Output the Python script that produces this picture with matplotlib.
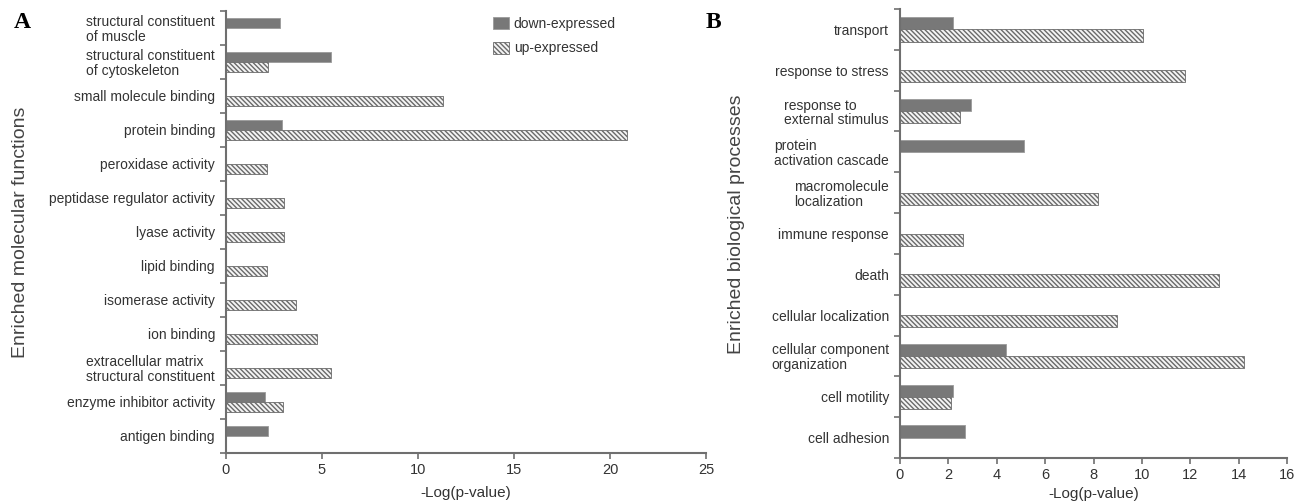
import numpy as np
import matplotlib
matplotlib.use('Agg')
import matplotlib.pyplot as plt
from matplotlib.patches import Patch

plt.rcParams['font.family'] = ['Liberation Sans', 'DejaVu Sans']
plt.rcParams['hatch.color'] = '#555555'
plt.rcParams['hatch.linewidth'] = 1.0

# Panel A: enriched molecular functions
mf_labels = ['structural constituent\nof muscle', 'structural constituent\nof cytoskeleton',
             'small molecule binding', 'protein binding', 'peroxidase activity',
             'peptidase regulator activity', 'lyase activity', 'lipid binding',
             'isomerase activity', 'ion binding', 'extracellular matrix\nstructural constituent',
             'enzyme inhibitor activity', 'antigen binding']
mf_down = [2.83, 5.48, 0, 2.93, 0, 0, 0, 0, 0, 0, 0, 2.05, 2.2]
mf_up = [0, 2.17, 11.28, 20.9, 2.12, 3.0, 3.04, 2.15, 3.65, 4.76, 5.49, 2.98, 0]

# Panel B: enriched biological processes
bp_labels = ['transport', 'response to stress', 'response to\nexternal stimulus',
             'protein\nactivation cascade', 'macromolecule\nlocalization', 'immune response',
             'death', 'cellular localization', 'cellular component\norganization',
             'cell motility', 'cell adhesion']
bp_down = [2.18, 0, 2.93, 5.12, 0, 0, 0, 0, 4.38, 2.19, 2.67]
bp_up = [10.05, 11.78, 2.49, 0, 8.18, 2.62, 13.2, 8.97, 14.24, 2.1, 0]

down_col = '#787878'
hatch_pat = '\\\\\\\\\\\\\\'
spine_col = '#6f6f6f'
text_col = '#333333'
H = 0.3

W, Hpx = 1311, 503
fig = plt.figure(figsize=(W / 100, Hpx / 100), dpi=100)
axA = fig.add_axes([226 / W, 50 / Hpx, 480 / W, 442 / Hpx])
axB = fig.add_axes([900 / W, 45 / Hpx, 387 / W, 449 / Hpx])


def draw(ax, labels, down, up, xmax, step, ylab, ylab_pos, xpad):
    n = len(labels)
    y = np.arange(n)
    down = np.array(down, dtype=float)
    up = np.array(up, dtype=float)
    md = down > 0
    mu = up > 0
    ax.barh(y[md] - H / 2, down[md], height=H, color=down_col,
            edgecolor='#9a9a9a', linewidth=0.6)
    ax.barh(y[mu] + H / 2, up[mu], height=H, color='#f4f4f4',
            edgecolor='#6a6a6a', linewidth=0.6, hatch=hatch_pat)
    ax.set_ylim(n - 0.5, -0.5)
    ax.set_xlim(0, xmax)
    ax.set_xticks(np.arange(0, xmax + 0.1, step))
    ax.set_yticks(y)
    ax.set_yticklabels(labels, multialignment='left', linespacing=1.05)
    ax.set_yticks(np.arange(n + 1) - 0.5, minor=True)
    ax.tick_params(axis='y', which='major', length=0, pad=8,
                   labelsize=10, labelcolor=text_col)
    ax.tick_params(axis='y', which='minor', length=4, width=1.2, color=spine_col)
    ax.tick_params(axis='x', length=4, width=1.2, color=spine_col,
                   labelsize=10.5, labelcolor=text_col, pad=3)
    for s in ['top', 'right']:
        ax.spines[s].set_visible(False)
    for s in ['left', 'bottom']:
        ax.spines[s].set_color(spine_col)
        ax.spines[s].set_linewidth(1.5)
    ax.set_xlabel('-Log(p-value)', fontsize=11, color=text_col, labelpad=xpad)
    ax.set_ylabel(ylab, fontsize=14, color='#444444')
    ax.yaxis.set_label_coords(ylab_pos[0], ylab_pos[1])


draw(axA, mf_labels, mf_down, mf_up, 25, 5, 'Enriched molecular functions', (-0.41, 0.5), 7)
draw(axB, bp_labels, bp_down, bp_up, 16, 2, 'Enriched biological processes', (-0.40, 0.52), 3.5)

handles = [Patch(facecolor=down_col, edgecolor='#9a9a9a', linewidth=0.6),
           Patch(facecolor='#f4f4f4', edgecolor='#6a6a6a', linewidth=0.6, hatch=hatch_pat)]
axA.legend(handles, ['down-expressed', 'up-expressed'], loc='upper left',
           bbox_to_anchor=(493 / W, 1 - 17 / Hpx), bbox_transform=fig.transFigure,
           frameon=False, fontsize=10, handlelength=1.15, handleheight=0.95,
           handletextpad=0.35, labelspacing=0.75, borderpad=0, borderaxespad=0,
           labelcolor=text_col)

fig.text(14 / W, 1 - 22 / Hpx, 'A', fontsize=17, fontweight='bold',
         family='Liberation Serif', va='center', ha='left')
fig.text(706 / W, 1 - 22 / Hpx, 'B', fontsize=17, fontweight='bold',
         family='Liberation Serif', va='center', ha='left')

fig.savefig('out.png', dpi=100)
